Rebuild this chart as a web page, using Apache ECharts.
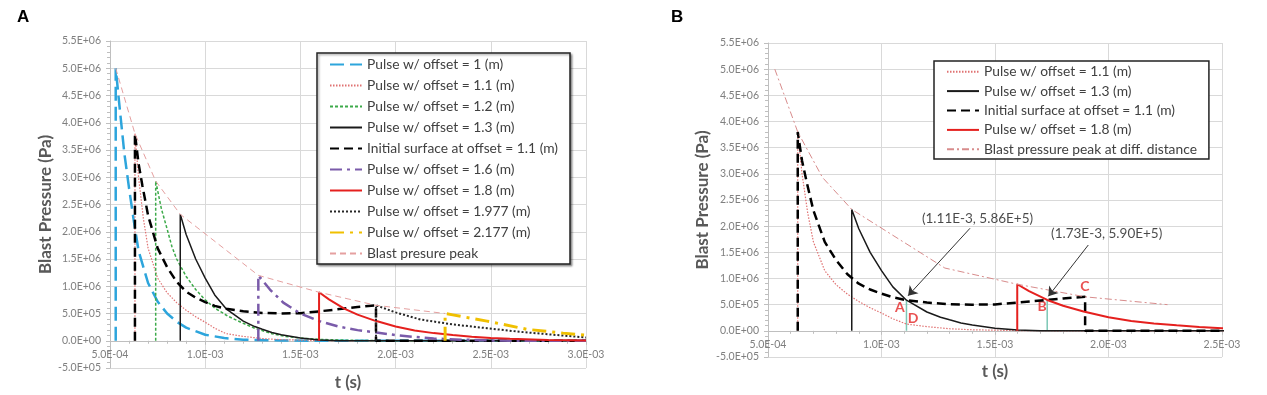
<!DOCTYPE html>
<html><head><meta charset="utf-8">
<script src="https://cdn.jsdelivr.net/npm/echarts@6/dist/echarts.min.js"></script>
<style>html,body{margin:0;padding:0;background:#fff;}#c{width:1267px;height:395px;}</style>
</head><body><div id="c"></div>
<script>
// ---- data (t in s, p in Pa) ----
const pulse1_0 = [[5.3e-4,0],[5.3e-4,5.0e6],[5.5e-4,4.3e6],[5.75e-4,3.45e6],[6.0e-4,2.8e6],[6.25e-4,2.2e6],[6.5e-4,1.65e6],[7.0e-4,1.06e6],[7.5e-4,7.2e5],[8.0e-4,5.0e5],[8.5e-4,3.5e5],[9.0e-4,2.4e5],[1.0e-3,1.1e5],[1.1e-3,5e4],[1.2e-3,2e4],[1.4e-3,5e3],[1.6e-3,0],[3.0e-3,0]];
const pulse1_1 = [[6.31e-4,0],[6.31e-4,3.8e6],[6.5e-4,3.0e6],[6.75e-4,2.25e6],[7.0e-4,1.7e6],[7.5e-4,1.15e6],[8.0e-4,8.8e5],[8.5e-4,7.0e5],[9.0e-4,5.6e5],[9.5e-4,4.4e5],[1.0e-3,3.4e5],[1.05e-3,2.3e5],[1.11e-3,1.3e5],[1.2e-3,8e4],[1.3e-3,4e4],[1.4e-3,2e4],[1.6e-3,5e3],[1.8e-3,0],[3.0e-3,0]];
const pulse1_2 = [[7.4e-4,0],[7.4e-4,2.93e6],[7.7e-4,2.42e6],[8.0e-4,2.05e6],[8.25e-4,1.73e6],[8.5e-4,1.5e6],[9.0e-4,1.18e6],[9.5e-4,9.4e5],[1.0e-3,7.5e5],[1.05e-3,6.0e5],[1.12e-3,4.5e5],[1.2e-3,3.2e5],[1.26e-3,2.3e5],[1.35e-3,1.3e5],[1.42e-3,8e4],[1.5e-3,5e4],[1.6e-3,2.5e4],[1.8e-3,5e3],[2.0e-3,0],[3.0e-3,0]];
const pulse1_3 = [[8.69e-4,0],[8.69e-4,2.32e6],[9.0e-4,1.95e6],[9.5e-4,1.5e6],[1.0e-3,1.15e6],[1.05e-3,8.4e5],[1.11e-3,5.86e5],[1.2e-3,3.6e5],[1.26e-3,2.6e5],[1.3e-3,2.1e5],[1.35e-3,1.5e5],[1.4e-3,1.1e5],[1.5e-3,5e4],[1.6e-3,1.5e4],[1.7e-3,0],[3.0e-3,0]];
const surface1_1 = [[6.31e-4,0],[6.31e-4,3.8e6],[6.5e-4,3.25e6],[6.7e-4,2.85e6],[7.0e-4,2.3e6],[7.5e-4,1.7e6],[8.0e-4,1.35e6],[8.5e-4,1.08e6],[9.0e-4,9.0e5],[9.5e-4,7.9e5],[1.0e-3,7.1e5],[1.05e-3,6.4e5],[1.11e-3,5.86e5],[1.2e-3,5.4e5],[1.3e-3,5.1e5],[1.4e-3,5.0e5],[1.5e-3,5.05e5],[1.6e-3,5.4e5],[1.73e-3,5.9e5],[1.8e-3,6.2e5],[1.897e-3,6.5e5],[1.897e-3,0],[3.0e-3,0]];
const pulse1_6 = [[1.279e-3,0],[1.279e-3,1.2e6],[1.34e-3,9.4e5],[1.41e-3,7.0e5],[1.5e-3,5.0e5],[1.6e-3,3.6e5],[1.7e-3,2.6e5],[1.8e-3,1.95e5],[1.9e-3,1.5e5],[2.0e-3,1.05e5],[2.1e-3,7e4],[2.2e-3,4e4],[2.35e-3,2e4],[2.5e-3,5e3],[2.7e-3,0],[3.0e-3,0]];
const pulse1_8 = [[1.598e-3,0],[1.598e-3,8.9e5],[1.65e-3,7.6e5],[1.73e-3,5.9e5],[1.8e-3,4.8e5],[1.89e-3,3.7e5],[2.0e-3,2.6e5],[2.1e-3,1.9e5],[2.2e-3,1.4e5],[2.3e-3,1.05e5],[2.4e-3,7.5e4],[2.5e-3,5e4],[2.6e-3,3.5e4],[2.8e-3,1.5e4],[3.0e-3,5e3]];
const pulse1_977 = [[1.897e-3,0],[1.897e-3,6.5e5],[2.0e-3,5.2e5],[2.13e-3,3.9e5],[2.3e-3,3.0e5],[2.48e-3,2.3e5],[2.65e-3,1.65e5],[2.83e-3,1.1e5],[3.0e-3,6e4]];
const pulse2_177 = [[2.26e-3,0],[2.26e-3,5.0e5],[2.3e-3,4.75e5],[2.48e-3,3.6e5],[2.69e-3,2.1e5],[2.88e-3,1.4e5],[3.0e-3,1.0e5]];
const peakEnvelope = [[5.3e-4,5.0e6],[6.31e-4,3.8e6],[7.4e-4,2.93e6],[8.69e-4,2.32e6],[1.279e-3,1.2e6],[1.598e-3,8.9e5],[1.897e-3,6.5e5],[2.26e-3,5.0e5]];

// panel B guides and annotations
const guideA = [[1.11e-3,0],[1.11e-3,5.86e5]];
const guideB = [[1.73e-3,0],[1.73e-3,5.90e5]];
const calloutTexts = ['(1.11E-3, 5.86E+5)','(1.73E-3, 5.90E+5)'];
const calloutAnchors = [[1.423e-3,2.15e6],[1.992e-3,1.86e6]];
const arrowStarts = [[1.39e-3,1.96e6],[1.911e-3,1.64e6]];
const arrowEnds = [[1.117e-3,6.7e5],[1.735e-3,6.6e5]];
const pointLetters = ['A','D','B','C'];
const letterAnchors = [[1.081e-3,4.4e5],[1.139e-3,2.3e5],[1.707e-3,4.6e5],[1.896e-3,8.4e5]];

// axes
const tMin = 5e-4, tStep = 5e-4, tMaxA = 3.0e-3, tMaxB = 2.5e-3;
const pMin = -5e5, pMax = 5.5e6, pStep = 5e5;

function sci(v){
  if (Math.abs(v) < 1e-15) return '0.0E+00';
  const s = v.toExponential(1);
  let [m, e] = s.split('e');
  const sign = e[0]; let d = e.slice(1); if (d.length < 2) d = '0' + d;
  return m + 'E' + sign + d;
}

const FONT = 'Lato';
const gridCol = '#d9d9d9';
const titleStyle = {fontFamily:FONT, fontWeight:'bold', fontSize:17, color:'#595959'};
const gridA = {left:110, top:41, width:476, height:327};
const gridB = {left:768, top:43, width:454, height:314};
// the horizontal axis sits at p = 0 (one step above the bottom of the range)
function zeroOffset(g){ return -g.height * (0 - pMin) / (pMax - pMin); }

function xAxis(gi, max, g, gap){
  return {type:'value', gridIndex:gi, min:tMin, max:max, interval:tStep,
    offset:zeroOffset(g),
    name:'t (s)', nameLocation:'middle', nameGap:gap,
    nameTextStyle:titleStyle,
    axisLine:{onZero:false, lineStyle:{color:'#bfbfbf', width:1}},
    axisTick:{show:true, length:4, lineStyle:{color:'#bfbfbf'}},
    minorTick:{show:true, splitNumber:5, length:3, lineStyle:{color:'#bfbfbf'}},
    splitLine:{show:true, lineStyle:{color:gridCol, width:1}},
    axisLabel:{formatter:sci, fontFamily:FONT, fontSize:10.5, color:'#7f7f7f', margin:8, showMinLabel:true, showMaxLabel:true, hideOverlap:false}
  };
}
function yAxis(gi, gap){
  return {type:'value', gridIndex:gi, min:pMin, max:pMax, interval:pStep,
    name:'Blast Pressure (Pa)', nameLocation:'middle', nameGap:gap, nameRotate:90,
    nameTextStyle:titleStyle,
    axisLine:{show:true, onZero:false, lineStyle:{color:'#bfbfbf', width:1}},
    axisTick:{show:true, length:4, lineStyle:{color:'#bfbfbf'}},
    minorTick:{show:true, splitNumber:5, length:3, lineStyle:{color:'#bfbfbf'}},
    splitLine:{show:true, lineStyle:{color:gridCol, width:1}},
    axisLabel:{formatter:sci, fontFamily:FONT, fontSize:10.5, color:'#7f7f7f', margin:9, showMinLabel:true, showMaxLabel:true, hideOverlap:false}
  };
}
function line(name, data, gi, color, width, type){
  return {type:'line', name:name, data:data, xAxisIndex:gi, yAxisIndex:gi,
    symbol:'none', showSymbol:false, silent:true, smooth:false,
    lineStyle:{color:color, width:width, type:type}, itemStyle:{color:color},
    emphasis:{disabled:true}};
}

const st = {
  c10:['#2DA5DC',2.5,[14,6]],
  c11:['#E07272',1.2,[1.5,1.5]],
  c12:['#3DAA4A',1.5,[3,2]],
  c13:['#1a1a1a',1.5,'solid'],
  cS:['#000000',2.5,[9,5]],
  c16:['#7A5BAA',2.5,[12,5,3,5]],
  c18:['#E5201E',2,'solid'],
  c1977:['#262626',2,[2,2]],
  c2177:['#F0C000',3,[14,6,3,6]],
  cEnvA:['#E5A0A0',1,[6,4]],
  cEnvB:['#D88C8C',1,[7,3,2,3]]
};
const names = {
  n10:'Pulse w/ offset = 1 (m)', n11:'Pulse w/ offset = 1.1 (m)', n12:'Pulse w/ offset = 1.2 (m)',
  n13:'Pulse w/ offset = 1.3 (m)', nS:'Initial surface at offset = 1.1 (m)', n16:'Pulse w/ offset = 1.6 (m)',
  n18:'Pulse w/ offset = 1.8 (m)', n1977:'Pulse w/ offset = 1.977 (m)', n2177:'Pulse w/ offset = 2.177 (m)',
  nEnvA:'Blast presure peak', nEnvB:'Blast pressure peak at diff. distance'
};

const series = [
  line(names.n10, pulse1_0, 0, ...st.c10),
  line(names.n11, pulse1_1, 0, ...st.c11),
  line(names.n12, pulse1_2, 0, ...st.c12),
  line(names.n13, pulse1_3, 0, ...st.c13),
  line(names.nS, surface1_1, 0, ...st.cS),
  line(names.n16, pulse1_6, 0, ...st.c16),
  line(names.n18, pulse1_8, 0, ...st.c18),
  line(names.n1977, pulse1_977, 0, ...st.c1977),
  line(names.n2177, pulse2_177, 0, ...st.c2177),
  line(names.nEnvA, peakEnvelope, 0, ...st.cEnvA),

  line('guide A', guideA, 1, '#7CC7B5', 1.5, 'solid'),
  line('guide B', guideB, 1, '#7CC7B5', 1.5, 'solid'),
  line(names.n11, pulse1_1, 1, ...st.c11),
  line(names.n13, pulse1_3, 1, ...st.c13),
  line(names.nS, surface1_1, 1, ...st.cS),
  line(names.n18, pulse1_8, 1, ...st.c18),
  line(names.nEnvB, peakEnvelope, 1, ...st.cEnvB),
  {type:'scatter', name:'callouts', xAxisIndex:1, yAxisIndex:1, silent:true, symbolSize:0,
   data: calloutAnchors.map((c,i)=>({value:c, name:calloutTexts[i]})),
   label:{show:true, position:'inside', formatter:'{b}', fontFamily:FONT, fontSize:13.5, color:'#1a1a1a'},
   markLine:{silent:true, symbol:['none','arrow'], symbolSize:9, animation:false,
     lineStyle:{color:'#333', width:1, type:'solid'}, label:{show:false},
     data: arrowStarts.map((s,i)=>[{coord:s},{coord:arrowEnds[i]}])}
  },
  {type:'scatter', name:'letters', xAxisIndex:1, yAxisIndex:1, silent:true, symbolSize:0,
   data: letterAnchors.map((c,i)=>({value:c, name:pointLetters[i]})),
   label:{show:true, position:'inside', formatter:'{b}', fontFamily:FONT, fontWeight:'bold', fontSize:14, color:'#E32626'}
  }
];

const legendText = {fontFamily:FONT, fontSize:13.8, color:'#404040'};
const option = {
  animation:false,
  backgroundColor:'#fff',
  grid:[
    Object.assign({show:false, outerBoundsMode:'none', containLabel:false}, gridA),
    Object.assign({show:false, outerBoundsMode:'none', containLabel:false}, gridB)
  ],
  xAxis:[xAxis(0, tMaxA, gridA, 33.5), xAxis(1, tMaxB, gridB, 32.5)],
  yAxis:[yAxis(0, 54.5), yAxis(1, 56.5)],
  legend:[
    {orient:'vertical', left:317, top:53, itemWidth:32, itemHeight:12, itemGap:0,
     padding:[1,12,0,12], backgroundColor:'#fff', borderColor:'#222', borderWidth:1.5,
     shadowColor:'rgba(0,0,0,0.35)', shadowBlur:2, shadowOffsetX:1.5, shadowOffsetY:1.5,
     selectedMode:false, itemStyle:{opacity:0}, textStyle:Object.assign({lineHeight:21}, legendText),
     data:[names.n10,names.n11,names.n12,names.n13,names.nS,names.n16,names.n18,names.n1977,names.n2177,names.nEnvA]},
    {orient:'vertical', left:934, top:61, itemWidth:32, itemHeight:12, itemGap:0,
     padding:[1,12,0,12], backgroundColor:'#fff', borderColor:'#222', borderWidth:1.5,
     selectedMode:false, itemStyle:{opacity:0}, textStyle:Object.assign({lineHeight:19.4}, legendText),
     data:[names.n11,names.n13,names.nS,names.n18,names.nEnvB]}
  ],
  graphic:[
    {type:'text', left:17, top:9, style:{text:'A', font:'bold 17px "Liberation Sans"', fill:'#000'}},
    {type:'text', left:671, top:9, style:{text:'B', font:'bold 17px "Liberation Sans"', fill:'#000'}}
  ],
  series:series
};
const chart = echarts.init(document.getElementById('c'), null, {renderer:'canvas'});
chart.setOption(option);
</script>
</body></html>
